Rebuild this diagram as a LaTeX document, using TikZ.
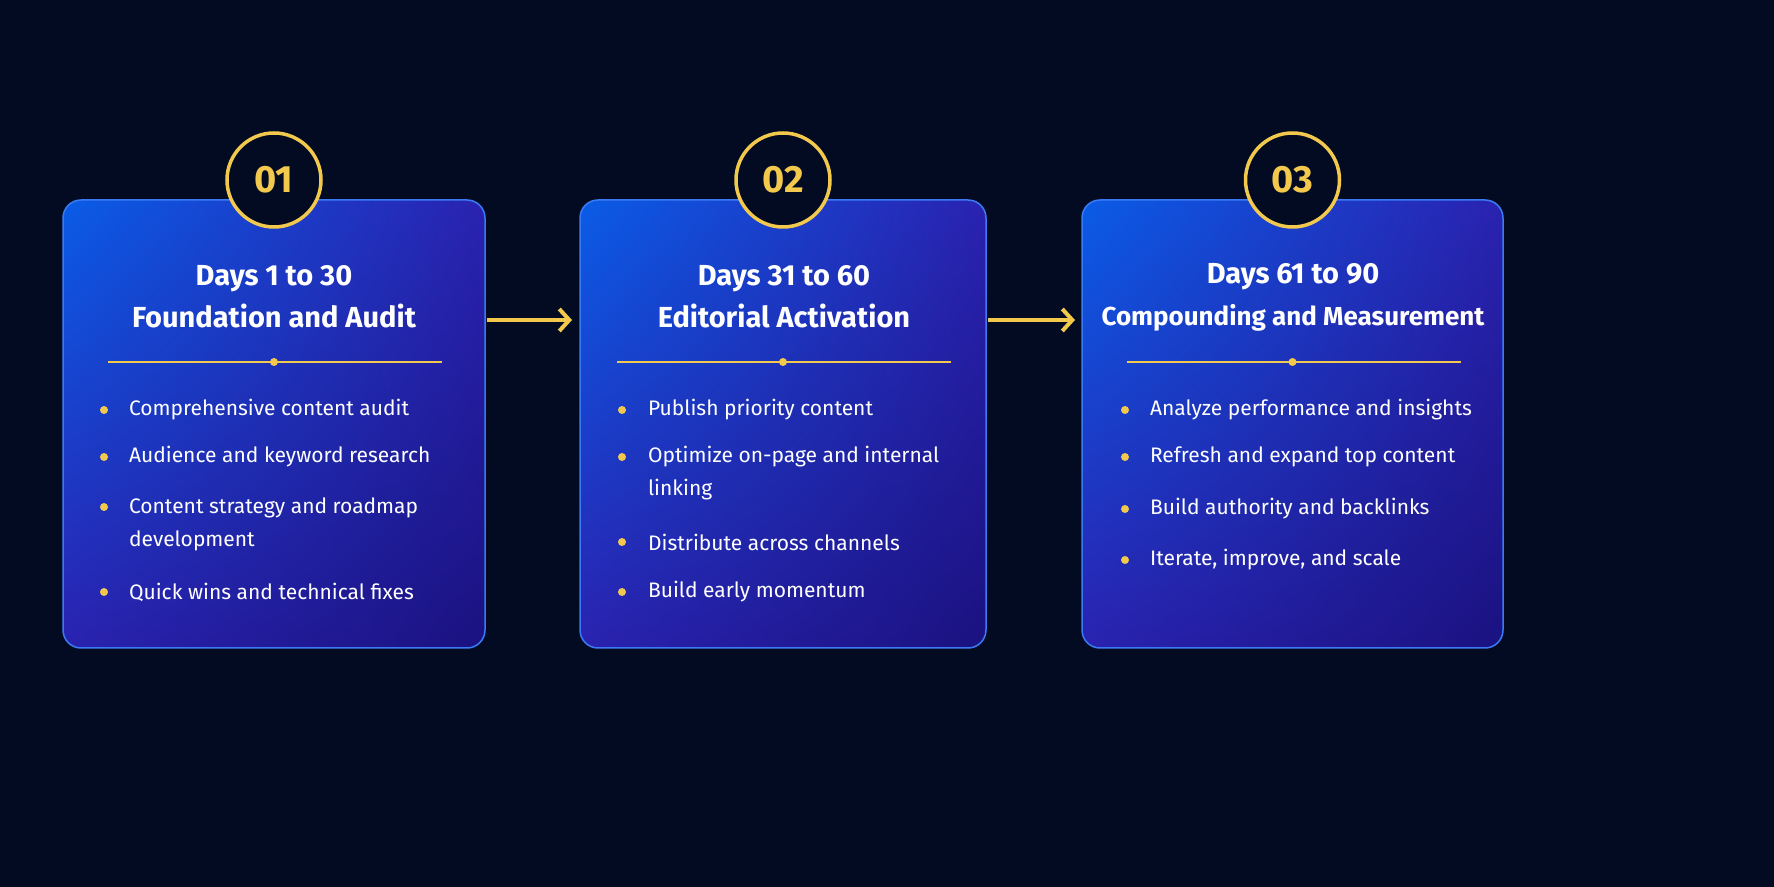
\documentclass[tikz,border=0pt]{standalone}
\usepackage{fontspec}
\setmainfont{Fira Sans}
\usetikzlibrary{arrows.meta,shadings}
\definecolor{bg}{HTML}{020B22}
\definecolor{gold}{HTML}{F2C94C}
\definecolor{cardA}{HTML}{0A5CE6}
\definecolor{cardB}{HTML}{2A22B0}
\definecolor{cardC}{HTML}{1A1280}
\definecolor{cardE}{HTML}{3A7BF5}
\begin{document}
\begin{tikzpicture}[x=0.5pt,y=-0.5pt,
  card/.style={rounded corners=9pt},
  num/.style={circle,draw=gold,line width=1.75pt,fill=bg,minimum size=47pt,inner sep=0pt,text=gold,font=\fontsize{19}{20}\selectfont\bfseries},
  title/.style={text=white,font=\fontsize{14.5}{21}\selectfont\bfseries,align=center},
  item/.style={text=white,font=\fontsize{10.5}{16.5}\selectfont,anchor=west,align=left},
  dot/.style={circle,fill=gold,inner sep=0pt,minimum size=4pt},
  arr/.style={draw=gold,line width=2pt,-{Straight Barb[length=5pt,width=11pt,line width=2pt]}}]
\useasboundingbox (0,0) rectangle (1774,887);
\fill[bg] (0,0) rectangle (1774,887);
\foreach \a/\b/\k in {63/485/01,580/986/02,1082/1503/03}{
  \shade[card,upper left=cardA,upper right=cardB,lower left=cardB,lower right=cardC] (\a,200) rectangle (\b,648);
  \draw[card,cardE,line width=0.75pt] (\a,200) rectangle (\b,648);
  \pgfmathsetmacro\m{(\a+\b)/2}
  \node[num] (n\k) at (\m,180) {\k};
  \draw[gold,line width=0.6pt] (\m-166,362) -- (\m+168,362);
  \node[dot] (d\k) at (\m,362) {};
}
\node[title] (t1) at (274,297) {Days 1 to 30\\Foundation and Audit};
\node[title] (t2) at (784,297) {Days 31 to 60\\Editorial Activation};
\node[title] (t3) at (1293,297) {Days 61 to 90\\\fontsize{13}{21}\selectfont Compounding and Measurement};
\foreach \x/\y/\t in {
 122/410/{Comprehensive content audit},122/457/{Audience and keyword research},
 122/524/{Content strategy and roadmap\\development},122/592/{Quick wins and technical fixes},
 641/410/{Publish priority content},641/473/{Optimize on-page and internal\\linking},
 641/542/{Distribute across channels},641/592/{Build early momentum},
 1143/410/{Analyze performance and insights},1143/457/{Refresh and expand top content},
 1143/509/{Build authority and backlinks},1143/560/{Iterate, improve, and scale}}{
  \node[item] at (\x,\y) {\t};
}
\foreach \x/\y in {104/410,104/457,104/507,104/592,622/410,622/457,622/542,622/592,1125/410,1125/457,1125/509,1125/560}
  \node[dot] at (\x,\y) {};
\coordinate (a1s) at (487,320); \coordinate (a1e) at (572,320);
\coordinate (a2s) at (988,320); \coordinate (a2e) at (1075,320);
\draw[arr] (a1s) -- (a1e);
\draw[arr] (a2s) -- (a2e);
\end{tikzpicture}
\end{document}
